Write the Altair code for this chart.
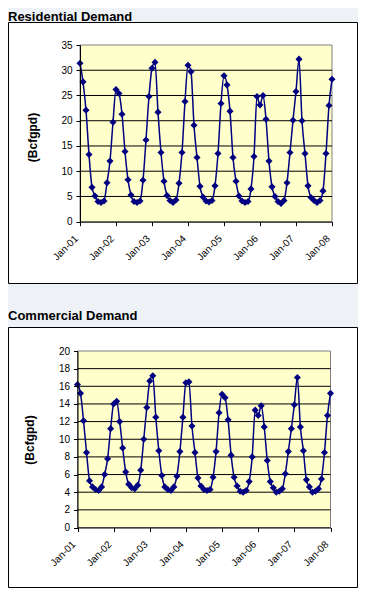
import altair as alt
import pandas as pd

# ---- data (monthly, Jan-01 .. Jan-08) ----
residential = [
    31.4, 27.7, 22.1, 13.3, 6.8, 5.1, 4.0, 3.8, 4.1, 7.7, 12.0, 19.7,
    26.2, 25.4, 21.3, 13.9, 8.3, 5.3, 4.0, 3.8, 4.1, 8.2, 16.2, 24.8,
    30.4, 31.6, 21.7, 13.7, 8.0, 5.2, 4.2, 3.8, 4.3, 7.6, 13.7, 23.8,
    31.0, 29.7, 19.1, 12.7, 7.0, 4.9, 4.1, 3.9, 4.2, 7.1, 13.5, 23.4,
    28.9, 27.1, 21.9, 12.7, 8.0, 5.1, 4.1, 3.8, 4.0, 6.5, 12.9, 24.8,
    23.1, 25.0, 20.3, 12.0, 6.9, 5.0, 4.0, 3.6, 4.2, 7.7, 13.7, 20.1,
    25.8, 32.2, 20.0, 13.5, 7.1, 4.8, 4.2, 3.8, 4.2, 6.1, 13.5, 23.0,
    28.2,
]
commercial = [
    16.2, 15.2, 12.1, 8.5, 5.3, 4.6, 4.3, 4.2, 4.6, 6.0, 7.8, 11.2,
    14.0, 14.3, 12.0, 9.0, 6.3, 4.9, 4.5, 4.4, 4.8, 6.5, 10.0, 13.6,
    16.6, 17.2, 12.5, 8.7, 5.9, 4.6, 4.3, 4.2, 4.6, 5.8, 8.6, 12.5,
    16.4, 16.5, 11.5, 8.5, 5.6, 4.7, 4.3, 4.2, 4.3, 5.7, 8.6, 13.0,
    15.1, 14.7, 12.2, 8.2, 5.7, 4.7, 4.1, 4.0, 4.2, 5.2, 8.0, 13.3,
    12.7, 13.8, 11.4, 7.6, 5.2, 4.5, 4.0, 4.1, 4.4, 6.1, 8.6, 11.2,
    13.9, 17.0, 11.4, 8.7, 5.4, 4.6, 4.0, 4.1, 4.4, 5.5, 8.5, 12.7,
    15.2,
]
months = list(range(len(residential)))
x_labels = ["Jan-01", "Jan-02", "Jan-03", "Jan-04", "Jan-05", "Jan-06", "Jan-07", "Jan-08"]
res_ticks = [0, 5, 10, 15, 20, 25, 30, 35]
com_ticks = [0, 2, 4, 6, 8, 10, 12, 14, 16, 18, 20]
titles = ["Residential Demand", "Commercial Demand"]
unit = "(Bcfgpd)"

W, H = 350, 580
FONT = "Liberation Sans"
BG = "#EEF2F6"
NAVY = "#000080"
ONE = alt.Data(values=[{}])


def panel(values, ticks, xr, yr):
    df = pd.DataFrame({"m": months, "v": values})
    last = months[-1]
    label_expr = "[" + ",".join("'%s'" % l for l in x_labels) + "][round(datum.value/12)]"
    xs = alt.Scale(domain=[0, last], range=xr, nice=False, zero=False)
    ys = alt.Scale(domain=[ticks[0], ticks[-1]], range=yr, nice=False, zero=False)
    xaxis = alt.Axis(
        orient="bottom", offset=yr[0] - H, values=[12 * i for i in range(len(x_labels))],
        labelExpr=label_expr, labelAngle=-45, labelAlign="right", labelBaseline="middle",
        labelPadding=11, labelOffset=-4, tickSize=4, grid=False, title=None,
        domainColor="black", tickColor="black", labelColor="black", labelFont=FONT,
        labelFontSize=10, labelFlush=False, labelOverlap=False, labelBound=False, zindex=1,
    )
    yaxis = alt.Axis(
        orient="left", offset=-xr[0], values=ticks, tickSize=4, labelPadding=4,
        grid=False, title=None, domainColor="black", tickColor="black", labelColor="black",
        labelFont=FONT, labelFontSize=10, labelFlush=False, labelOverlap=False, zindex=1,
    )
    bg = alt.Chart(ONE).mark_rect(fill="#FFFFCC", stroke="#808080", strokeWidth=1).encode(
        x=alt.datum(0), x2=alt.datum(last), y=alt.datum(ticks[0]), y2=alt.datum(ticks[-1])
    )
    grid = alt.Chart(pd.DataFrame({"g": ticks[1:-1]})).mark_rule(color="black", strokeWidth=1).encode(
        y=alt.Y("g:Q"), x=alt.datum(0), x2=alt.datum(last)
    )
    line = alt.Chart(df).mark_line(color=NAVY, strokeWidth=1.5, interpolate="monotone").encode(
        x=alt.X("m:Q", scale=xs, axis=xaxis), y=alt.Y("v:Q", scale=ys, axis=yaxis)
    )
    pts = alt.Chart(df).mark_point(shape="diamond", filled=True, color=NAVY, size=50, opacity=1).encode(
        x="m:Q", y="v:Q"
    )
    return alt.layer(bg, grid, line, pts)


def frame(y0, y1):
    return alt.Chart(ONE).mark_rect(fill="white", stroke="black", strokeWidth=1).encode(
        x=alt.value(0.5), x2=alt.value(349.5), y=alt.value(y0), y2=alt.value(y1)
    )


def label(txt, x, y, size, angle=0, align="left", baseline="alphabetic"):
    return alt.Chart(ONE).mark_text(
        text=txt, font=FONT, fontSize=size, fontWeight="bold", color="black",
        angle=angle, align=align, baseline=baseline,
    ).encode(x=alt.value(x), y=alt.value(y))


top = panel(residential, res_ticks, [72, 324], [213.7, 37])
bottom = panel(commercial, com_ticks, [69.5, 322.5], [519.5, 343])

chart = alt.layer(
    frame(14.5, 275.5),
    frame(319.5, 579.5),
    label(titles[0], 0, 12.5, 13),
    label(titles[1], 0, 312, 13),
    label(unit, 25, 129.5, 12, angle=270, align="center", baseline="middle"),
    label(unit, 22, 432, 12, angle=270, align="center", baseline="middle"),
    top,
    bottom,
).resolve_scale(x="independent", y="independent").resolve_axis(
    x="independent", y="independent"
).properties(
    width=W, height=H, autosize=alt.AutoSizeParams(type="none"), padding=0, background=BG
).configure_view(stroke=None)

chart.save("out.html", embed_options={"renderer": "svg", "actions": False})
